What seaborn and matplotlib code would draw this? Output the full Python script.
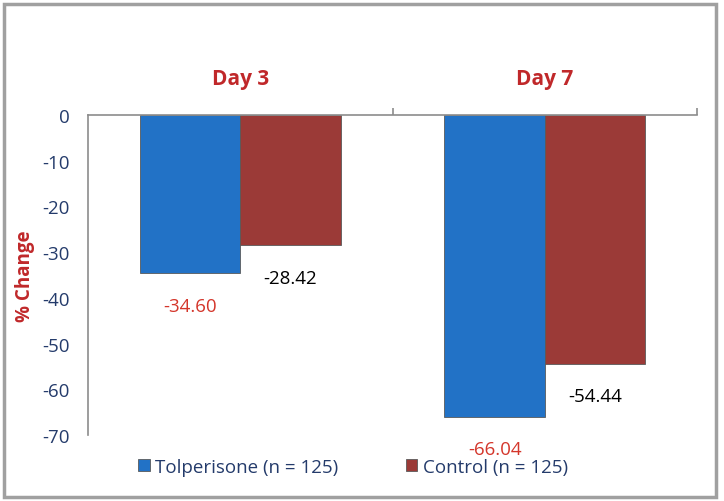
import pandas as pd
import seaborn as sns
from matplotlib import pyplot as plt
from matplotlib.patches import Rectangle

days = ['Day 3', 'Day 7']
tolperisone = [-34.60, -66.04]
control = [-28.42, -54.44]
groups = ['Tolperisone (n = 125)', 'Control (n = 125)']
yticks = [0, -10, -20, -30, -40, -50, -60, -70]

df = pd.DataFrame({
    'day': days * 2,
    'group': [groups[0]] * 2 + [groups[1]] * 2,
    'value': tolperisone + control,
})

sns.set_style('white')
plt.rcParams['font.family'] = ['Open Sans', 'DejaVu Sans']

blue = '#2272c6'
red = '#9b3a37'
navy = '#243b6b'
grey = '#8c8c8c'
label_red = '#d4362b'

fig = plt.figure(figsize=(7.24, 5.02), dpi=100)
ax = fig.add_axes([0.1215, 0.1315, 0.8415, 0.6375])

sns.barplot(data=df, x='day', y='value', hue='group', order=days, hue_order=groups,
            palette=[blue, red], width=0.66, gap=0, saturation=1,
            edgecolor='#5a5a5a', linewidth=0.6, ax=ax)

ax.set_ylim(-70, 0)
ax.set_xlim(-0.5, 1.5)
ax.set_yticks(yticks)
ax.set_yticklabels([str(t) for t in yticks])
ax.tick_params(axis='y', direction='out', length=4, width=1.2, color=grey,
               labelcolor=navy, labelsize=13.5, pad=9)

# category labels on top, separator ticks between categories
ax.xaxis.tick_top()
ax.set_xticks([0, 1])
ax.set_xticklabels(days, color='#c0282a', fontweight='bold', fontsize=15)
ax.tick_params(axis='x', which='major', length=0, pad=19)
ax.set_xticks([0.5, 1.5], minor=True)
ax.tick_params(axis='x', which='minor', direction='out', length=5, width=1.2, color=grey)
ax.set_xlabel('')
ax.set_ylabel('% Change', color='#c0282a', fontweight='bold', fontsize=13.5, labelpad=5)

for s in ['bottom', 'right']:
    ax.spines[s].set_visible(False)
for s in ['top', 'left']:
    ax.spines[s].set_color(grey)
    ax.spines[s].set_linewidth(1.2)

# value labels below bars
for cont, col in zip(ax.containers, [label_red, 'black']):
    ax.bar_label(cont, labels=['%.2f' % b.get_height() for b in cont],
                 color=col, fontsize=13.5, padding=17)

leg = ax.legend(loc='upper left', bbox_to_anchor=(0.055, -0.018), ncol=2, frameon=False,
                fontsize=13.5, handlelength=0.6, handleheight=0.6, handletextpad=0.3,
                columnspacing=3.6, labelcolor=navy)

fig.patches.append(Rectangle((0.005, 0.008), 0.984, 0.982, transform=fig.transFigure,
                             fill=False, edgecolor='#a0a0a0', linewidth=2.5))

fig.savefig('out.png', dpi=100)
